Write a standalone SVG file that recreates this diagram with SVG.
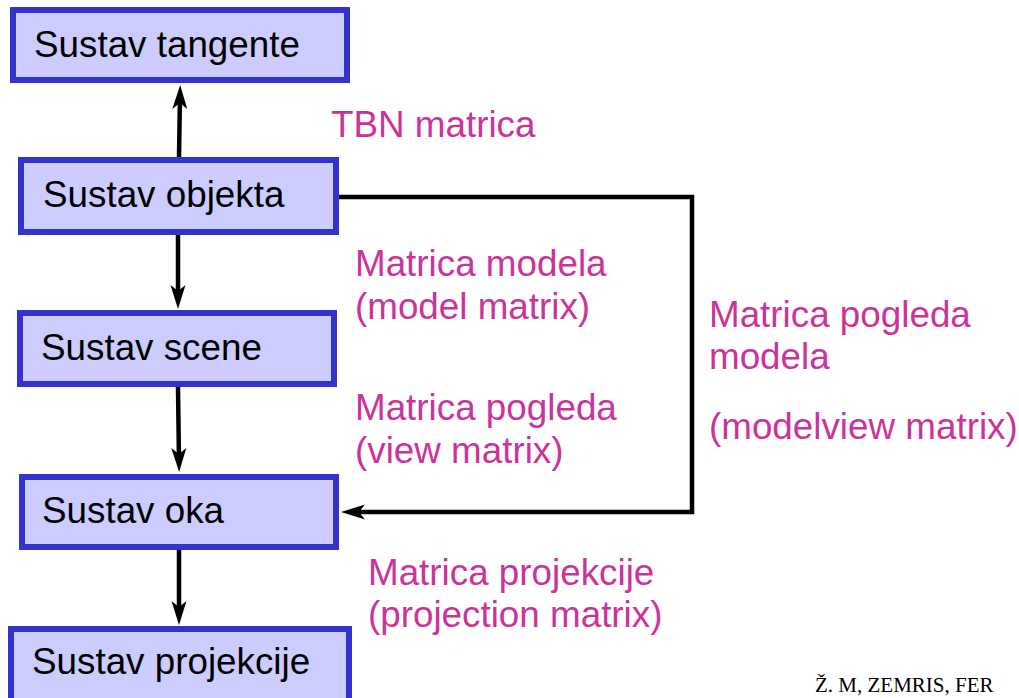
<svg xmlns="http://www.w3.org/2000/svg" width="1019" height="698" viewBox="0 0 1019 698">
  <style>
    .box { fill: #ccccff; stroke: #3333cc; stroke-width: 6; }
    .lbl { font-family: "Liberation Sans", Arial, sans-serif; font-size: 36.8px; fill: #000000; }
    .mat { font-family: "Liberation Sans", Arial, sans-serif; font-size: 36.8px; fill: #cc3399; }
    .conn { fill: none; stroke: #000000; stroke-width: 4.5; }
    .foot { font-family: "Liberation Serif", "Times New Roman", serif; font-size: 21px; fill: #000000; }
  </style>
  <defs>
    <marker id="arr" markerUnits="userSpaceOnUse" viewBox="-26 -10 30 20" markerWidth="30" markerHeight="20" refX="-10" refY="0" orient="auto">
      <path d="M0,0 L-24,-7.5 L-18,0 L-24,7.5 Z" fill="#000000"/>
    </marker>
  </defs>

  <g id="connectors">
    <path class="conn" d="M179,157 L180,95" marker-end="url(#arr)"/>
    <path class="conn" d="M178,235 L178,299" marker-end="url(#arr)"/>
    <path class="conn" d="M178,387 L179,462" marker-end="url(#arr)"/>
    <path class="conn" d="M179,550 L179,615" marker-end="url(#arr)"/>
    <path class="conn" d="M339,197 L692,197 L692,512 L351,512" marker-end="url(#arr)"/>
  </g>

  <g id="node-tangente">
    <rect class="box" x="13" y="10" width="334" height="70"/>
    <text class="lbl" x="34" y="57">Sustav tangente</text>
  </g>
  <g id="node-objekta">
    <rect class="box" x="21" y="160" width="315" height="72"/>
    <text class="lbl" x="43" y="207">Sustav objekta</text>
  </g>
  <g id="node-scene">
    <rect class="box" x="20" y="313" width="314" height="71"/>
    <text class="lbl" x="41" y="360">Sustav scene</text>
  </g>
  <g id="node-oka">
    <rect class="box" x="22" y="477" width="314" height="70"/>
    <text class="lbl" x="42" y="523">Sustav oka</text>
  </g>
  <g id="node-projekcije">
    <rect class="box" x="11" y="629" width="338" height="76"/>
    <text class="lbl" x="32" y="674">Sustav projekcije</text>
  </g>

  <g id="labels">
    <text class="mat" x="331" y="137">TBN matrica</text>
    <text class="mat" x="355" y="276">Matrica modela</text>
    <text class="mat" x="355" y="319">(model matrix)</text>
    <text class="mat" x="355" y="420">Matrica pogleda</text>
    <text class="mat" x="355" y="463">(view matrix)</text>
    <text class="mat" x="709" y="327">Matrica pogleda</text>
    <text class="mat" x="709" y="369">modela</text>
    <text class="mat" x="709" y="439">(modelview matrix)</text>
    <text class="mat" x="368" y="585">Matrica projekcije</text>
    <text class="mat" x="368" y="627">(projection matrix)</text>
  </g>

  <text class="foot" x="815" y="692">Ž. M, ZEMRIS, FER</text>
</svg>
